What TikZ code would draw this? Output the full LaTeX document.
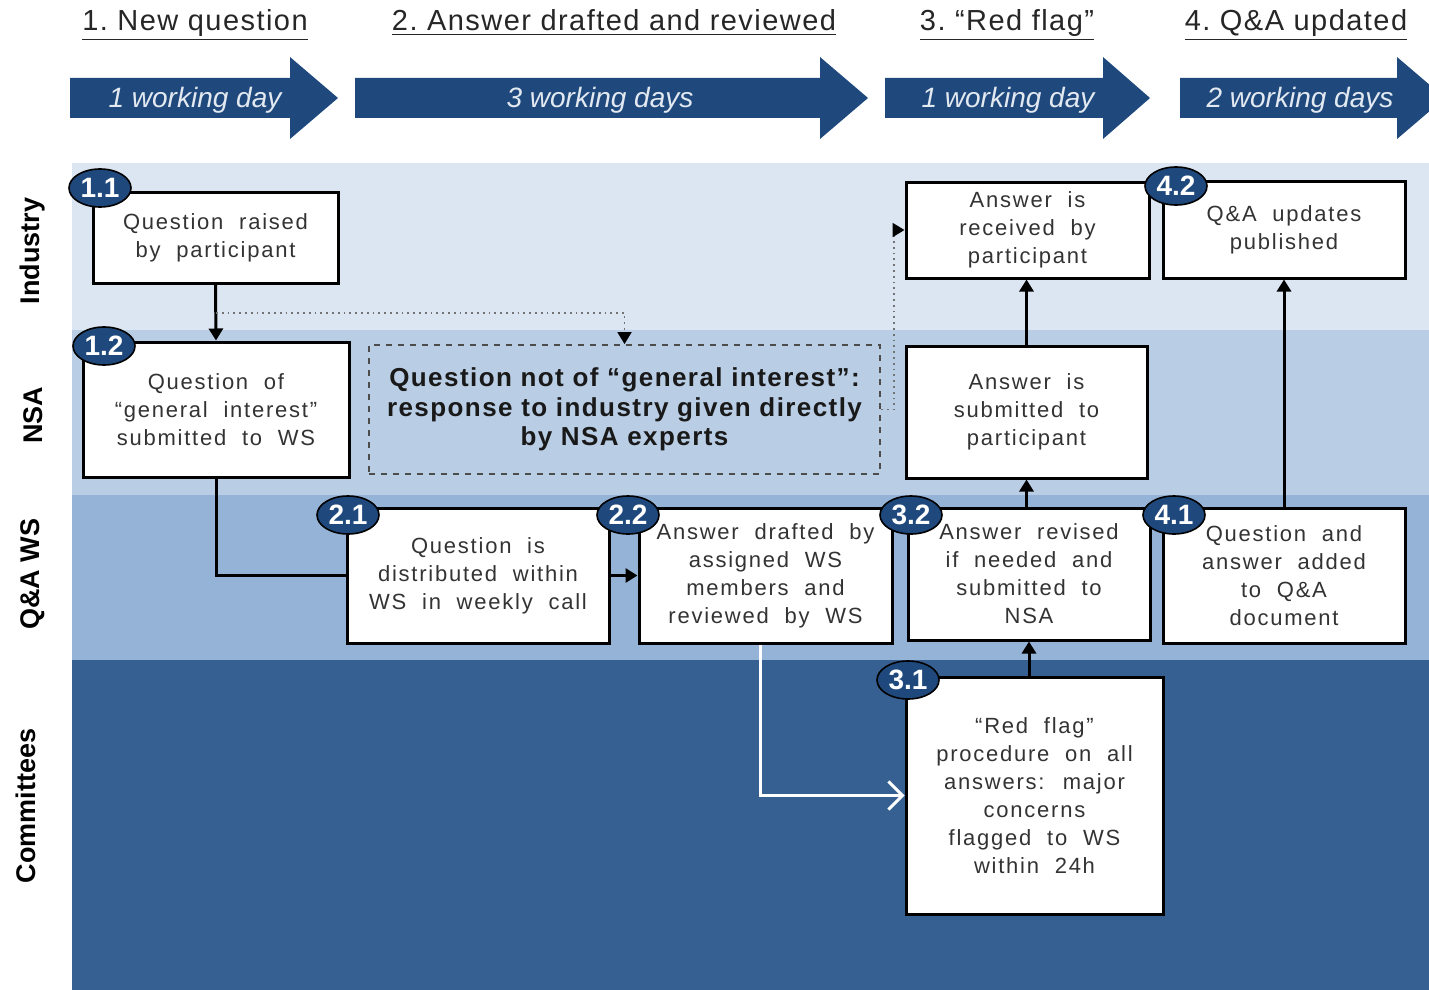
\documentclass[tikz,border=0pt]{standalone}
\usepackage{fontspec}
\setmainfont{Liberation Sans}
\newfontfamily\spacedfont{Liberation Sans}[LetterSpace=8.0,WordSpace=2.0]
\newfontfamily\widefont{Liberation Sans}[LetterSpace=5.0]
\newfontfamily\widebold{Liberation Sans Bold}[LetterSpace=5.5]
\usetikzlibrary{arrows.meta,shapes.geometric}
\definecolor{laneind}{HTML}{DCE6F2}
\definecolor{lanensa}{HTML}{B9CDE5}
\definecolor{lanews}{HTML}{95B3D7}
\definecolor{lanecom}{HTML}{376092}
\definecolor{phaseblue}{HTML}{1F497D}
\definecolor{dayfg}{HTML}{E3E9F1}
\tikzset{
  stepbox/.style={draw=black, line width=1.5pt, fill=white, inner sep=0pt, align=center,
    text=black!80, font=\spacedfont\fontsize{11}{14}\selectfont},
  directbox/.style={draw=black!70, dashed, line width=0.9pt, inner sep=0pt, align=center,
    text=black!90, font=\widebold\fontsize{13}{14.75}\selectfont},
  badge/.style={ellipse, draw=black, line width=0.8pt, fill=phaseblue, text=white,
    font=\bfseries\fontsize{14}{14}\selectfont, minimum width=31pt, minimum height=19pt, inner sep=0pt},
  flow/.style={line width=1.5pt, -{Triangle[width=7pt,length=6pt]}},
  plainflow/.style={line width=1.5pt},
  dotflow/.style={dotted, black!55, line width=0.9pt, -{Triangle[width=7pt,length=6pt,color=black]}},
  whiteflow/.style={white, line width=1.5pt, -{Straight Barb[width=14pt,length=7pt]}},
  lanelabel/.style={rotate=90, font=\bfseries\fontsize{13.5}{14}\selectfont},
  phase/.style={anchor=base, text=black!85, font=\widefont\fontsize{14.5}{16}\selectfont},
  daylabel/.style={text=dayfg, font=\itshape\fontsize{14}{16}\selectfont}
}
\begin{document}
\begin{tikzpicture}[x=0.5pt,y=-0.5pt]
\clip (0,0) rectangle (1429,990);
% swim lanes
\fill[laneind] (72,163) rectangle (1429,330);
\fill[lanensa] (72,330) rectangle (1429,495);
\fill[lanews] (72,495) rectangle (1429,660);
\fill[lanecom] (72,660) rectangle (1429,990);
\node[lanelabel] (lind) at (33,251) {Industry};
\node[lanelabel] (lnsa) at (33,415) {NSA};
\node[lanelabel] (lws) at (33,574) {Q\&A WS};
\node[lanelabel] (lcom) at (26,806) {Committees};
% phases
\node[phase] (ph1) at (195,31) {\underline{1.\ New question}};
\node[phase] (ph2) at (614,31) {\underline{2.\ Answer drafted and reviewed}};
\node[phase] (ph3) at (1007,31) {\underline{3.\ “Red flag”}};
\node[phase] (ph4) at (1296,31) {\underline{4.\ Q\&A updated}};
\fill[phaseblue] (70,78) -- (290,78) -- (290,57) -- (338,98) -- (290,139) -- (290,118) -- (70,118) -- cycle;
\fill[phaseblue] (355,78) -- (820,78) -- (820,57) -- (868,98) -- (820,139) -- (820,118) -- (355,118) -- cycle;
\fill[phaseblue] (885,78) -- (1103,78) -- (1103,57) -- (1150,98) -- (1103,139) -- (1103,118) -- (885,118) -- cycle;
\fill[phaseblue] (1180,78) -- (1397,78) -- (1397,57) -- (1445,98) -- (1397,139) -- (1397,118) -- (1180,118) -- cycle;
\node[daylabel] (d1) at (195,100) {1 working day};
\node[daylabel] (d2) at (600,100) {3 working days};
\node[daylabel] (d3) at (1008,100) {1 working day};
\node[daylabel] (d4) at (1300,100) {2 working days};
% steps
\node[stepbox, minimum width=122.5pt, minimum height=45.5pt] (q11) at (215.5,237.5) {Question raised\\by participant};
\node[stepbox, minimum width=133pt, minimum height=67.5pt] (q12) at (216,409.5) {Question of\\“general interest”\\submitted to WS};
\node[directbox, minimum width=255.5pt, minimum height=64.5pt] (direct) at (624.5,409.5) {Question not of “general interest”:\\response to industry given directly\\by NSA experts};
\node[stepbox, minimum width=131pt, minimum height=67.5pt] (q21) at (478,575.5) {Question is\\distributed within\\WS in weekly call};
\node[stepbox, minimum width=126.5pt, minimum height=67.5pt] (q22) at (765.5,575.5) {Answer drafted by\\assigned WS\\members and\\reviewed by WS};
\node[stepbox, minimum width=128.5pt, minimum height=118.5pt] (q31) at (1034.5,795.5) {“Red flag”\\procedure on all\\answers: major\\concerns\\flagged to WS\\within 24h};
\node[stepbox, minimum width=121pt, minimum height=66pt] (q32) at (1029,574) {Answer revised\\if needed and\\submitted to\\NSA};
\node[stepbox, minimum width=120.5pt, minimum height=66pt] (asub) at (1026.5,412) {Answer is\\submitted to\\participant};
\node[stepbox, minimum width=121.5pt, minimum height=48pt] (arec) at (1027.5,230) {Answer is\\received by\\participant};
\node[stepbox, minimum width=121pt, minimum height=67.5pt] (q41) at (1284,575.5) {Question and\\answer added\\to Q\&A\\document};
\node[stepbox, minimum width=121pt, minimum height=48.5pt] (q42) at (1284,229.5) {Q\&A updates\\published};
% connectors
\coordinate (split) at (216,313);
\draw[flow] (q11.south) -- (q12.north);
\draw[dotflow] (split) -| (direct.north);
\draw[dotflow] (direct.east) -- ++(13,0) |- (arec.west);
\draw[plainflow] (q12.south) |- (q21.west);
\draw[flow] (q21.east) -- (q22.west);
\draw[whiteflow] (q22.south -| 760,0) |- (q31.west);
\draw[flow] (q32.south |- q31.north) -- (q32.south);
\draw[flow] (asub.south |- q32.north) -- (asub.south);
\draw[flow] (asub.north) -- (asub.north |- arec.south);
\draw[flow] (q41.north) -- (q42.south);
% numbers
\node[badge] (b11) at (100,188) {1.1};
\node[badge] (b12) at (104,346) {1.2};
\node[badge] (b21) at (348,515) {2.1};
\node[badge] (b22) at (628,515) {2.2};
\node[badge] (b32) at (911,515) {3.2};
\node[badge] (b41) at (1174,515) {4.1};
\node[badge] (b42) at (1176,186) {4.2};
\node[badge] (b31) at (908,680) {3.1};
\end{tikzpicture}
\end{document}
